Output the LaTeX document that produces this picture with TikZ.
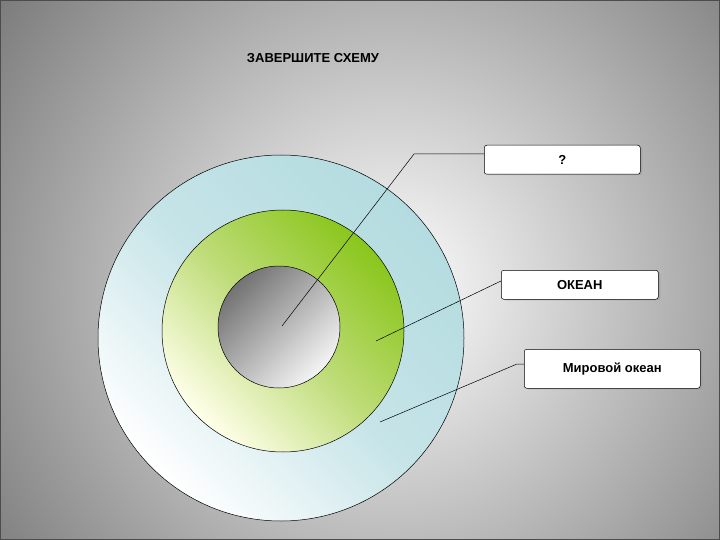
\documentclass[tikz,border=0pt]{standalone}
\usepackage{fontspec}
\setmainfont{Liberation Sans}
\usetikzlibrary{shadows}
\begin{document}
\begin{tikzpicture}[x=1pt,y=-1pt,
  lbl/.style={draw=black,fill=white,rounded corners=2.5pt,line width=0.5pt,font=\bfseries\fontsize{13}{15}\selectfont,anchor=north west,inner sep=0pt,
    drop shadow={shadow xshift=2pt,shadow yshift=-1pt,fill=gray!80}},
  conn/.style={draw=black,line width=0.5pt}]
\useasboundingbox (0,0) rectangle (720,540);
\begin{scope}
\clip (0,0) rectangle (720,540);
\shade[inner color=white,outer color=black!55] (390,290) circle (520);
\end{scope}
\draw[black!70,line width=1pt] (0.5,0.5) rectangle (719.5,539.5);
\node[font=\bfseries\fontsize{13}{15}\selectfont] (title) at (313,58) {ЗАВЕРШИТЕ СХЕМУ};
\begin{scope}[y=1pt]
\shade[draw=black,line width=0.5pt,top color=white,bottom color={rgb,255:red,180;green,220;blue,224},middle color={rgb,255:red,198;green,228;blue,232},shading angle=135] (281,-338) circle (183);
\shade[draw=black,line width=0.5pt,top color=white!92!yellow,bottom color={rgb,255:red,138;green,198;blue,28},middle color={rgb,255:red,190;green,220;blue,120},shading angle=135] (283,-331) circle (121);
\shade[draw=black,line width=0.5pt,top color=white!96!black,bottom color=black!55,shading angle=225] (279,-327) circle (61);
\end{scope}
\coordinate (p1) at (282,326);
\coordinate (p2) at (376,341);
\coordinate (p3) at (380,422);
\coordinate (k1) at (414,154);
\coordinate (k3) at (517,364);
\node[lbl,minimum width=156pt,minimum height=29pt] (q) at (484,145) {?};
\node[lbl,minimum width=157pt,minimum height=29pt] (ok) at (501,270) {ОКЕАН};
\node[lbl,minimum width=176pt,minimum height=39pt] (mo) at (524,349) {Мировой океан};
\draw[conn] (p1) -- (k1) -- (q.west|-k1);
\draw[conn] (p2) -- (ok.west|-0,281);
\draw[conn] (p3) -- (k3) -- (mo.west|-k3);
\end{tikzpicture}
\end{document}
